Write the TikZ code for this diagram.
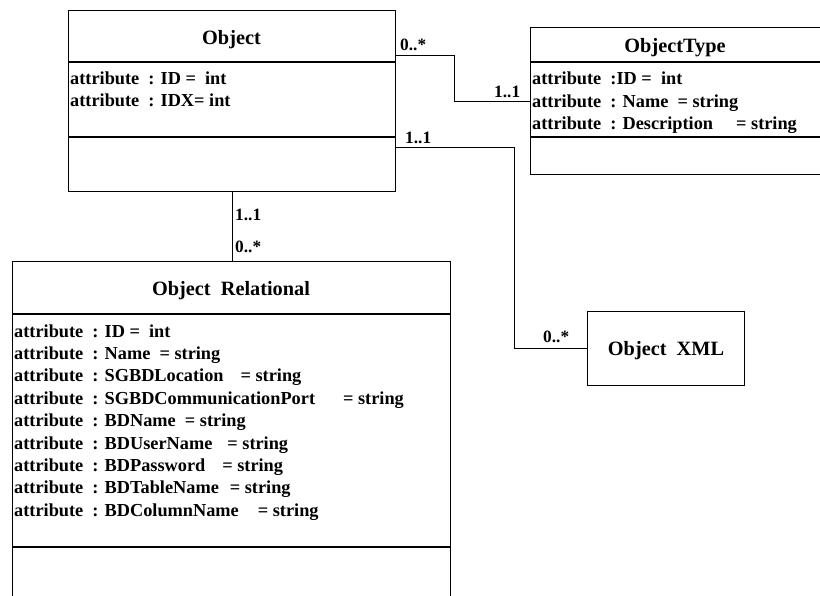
\documentclass[tikz,border=0pt]{standalone}
\usepackage{fontspec}
\setmainfont{Liberation Serif}
\begin{document}
\begin{tikzpicture}[x=1pt,y=-1pt,
  classbox/.style={draw, line width=1.1pt, inner sep=0pt, anchor=north west},
  sepline/.style={line width=2.2pt},
  conn/.style={line width=0.8pt},
  attr/.style={anchor=base west, inner sep=0pt, font=\bfseries\fontsize{18.3}{22}\selectfont},
  ctitle/.style={anchor=base, inner sep=0pt, font=\bfseries\fontsize{20.3}{24}\selectfont},
  mult/.style={anchor=base west, inner sep=0pt, font=\bfseries\fontsize{17.3}{20}\selectfont}]
\useasboundingbox (0,0) rectangle (820,595);
\clip (0,0) rectangle (820,595);

% Object
\node[classbox, minimum width=327pt, minimum height=181pt] (obj) at (68,10) {};
\node[ctitle] (objtitle) at (231.5,44) {Object};
\draw[sepline] (68,62) -- (395,62);
\draw[sepline] (68,137) -- (395,137);
\node[attr] (oa1) at (70,84) {attribute\ \ : ID = \ int};
\node[attr] (oa2) at (70,106) {attribute\ \ : IDX= int};

% ObjectType
\node[classbox, minimum width=320pt, minimum height=147pt] (otype) at (530,27) {};
\node[ctitle] (otitle) at (675,52) {ObjectType};
\draw[sepline] (530,62) -- (840,62);
\draw[sepline] (530,137) -- (840,137);
\node[attr] (ta1) at (532,84) {attribute\ \ :ID = \ int};
\node[attr] (ta2) at (532,107) {attribute\ \ : Name \ = string};
\node[attr] (ta3) at (532,129) {attribute\ \ : Description\hspace*{23pt}= string};

% Object Relational
\node[classbox, minimum width=438pt, minimum height=360pt] (orel) at (12,261) {};
\node[ctitle] (rtitle) at (231,295) {Object\ \ Relational};
\draw[sepline] (12,314) -- (450,314);
\draw[sepline] (12,547) -- (450,547);
\node[attr] (ra1) at (14,337) {attribute\ \ : ID = \ int};
\node[attr] (ra2) at (14,359.4) {attribute\ \ : Name \ = string};
\node[attr] (ra3) at (14,381.8) {attribute\ \ : SGBDLocation\hspace*{17pt}= string};
\node[attr] (ra4) at (14,404.2) {attribute\ \ : SGBDCommunicationPort\hspace*{28pt}= string};
\node[attr] (ra5) at (14,426.6) {attribute\ \ : BDName \ = string};
\node[attr] (ra6) at (14,449) {attribute\ \ : BDUserName\hspace*{15pt}= string};
\node[attr] (ra7) at (14,471.4) {attribute\ \ : BDPassword\hspace*{17pt}= string};
\node[attr] (ra8) at (14,493.8) {attribute\ \ : BDTableName\hspace*{11pt}= string};
\node[attr] (ra9) at (14,516.2) {attribute\ \ : BDColumnName\hspace*{19pt}= string};

% Object XML
\node[classbox, minimum width=157pt, minimum height=74pt] (oxml) at (587,311) {};
\node[ctitle] (xtitle) at (666,355) {Object\ \ XML};

% connectors
\coordinate (c1) at (454,55);
\coordinate (c2) at (454,101);
\draw[conn] (obj.east |- c1) -- (c1) -- (c2) -- (otype.west |- c2);
\coordinate (d1) at (514,147);
\coordinate (d2) at (514,348);
\draw[conn] (obj.east |- d1) -- (d1) -- (d2) -- (oxml.west |- d2);
\coordinate (v1) at (232,0);
\draw[conn] (obj.south -| v1) -- (orel.north -| v1);

% multiplicities
\node[mult] (m1) at (400,50) {0..*};
\node[mult] (m2) at (494,97) {1..1};
\node[mult] (m3) at (405,143) {1..1};
\node[mult] (m4) at (543,342) {0..*};
\node[mult] (m5) at (235,220) {1..1};
\node[mult] (m6) at (235,252) {0..*};
\end{tikzpicture}
\end{document}
